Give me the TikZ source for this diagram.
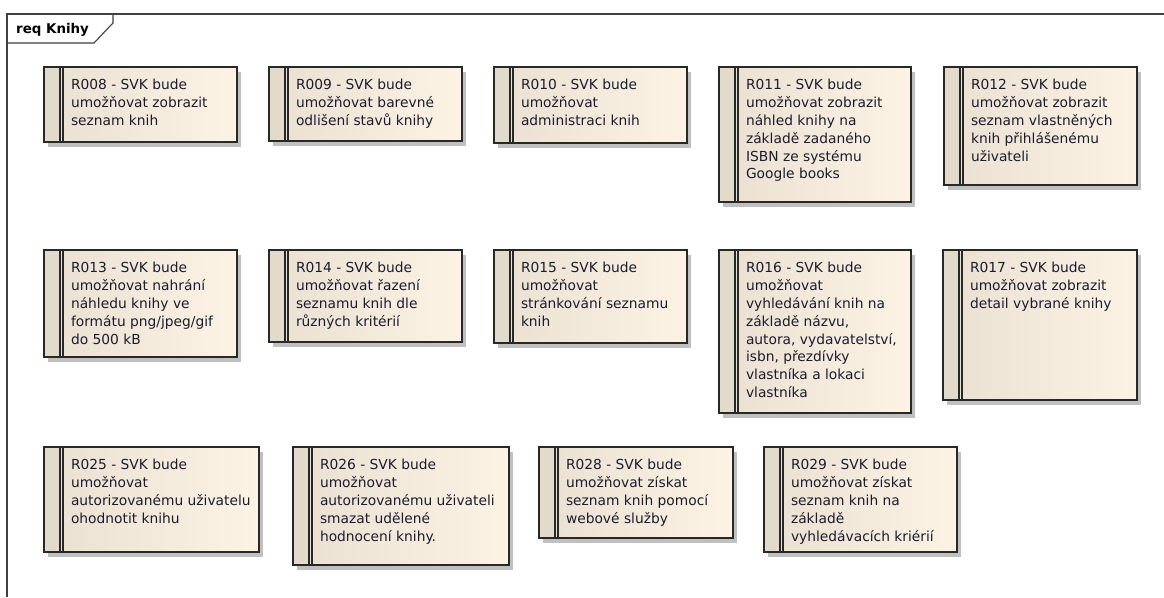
\documentclass[tikz,border=0pt]{standalone}
\usepackage{fontspec}
\setmainfont{DejaVu Sans}
\usetikzlibrary{shadows}

\definecolor{frameline}{RGB}{64,64,64}
\definecolor{boxline}{RGB}{40,40,40}
\definecolor{stripecol}{RGB}{226,218,203}
\definecolor{bodyleft}{RGB}{233,224,209}
\definecolor{bodyright}{RGB}{252,243,228}
\definecolor{reqink}{RGB}{28,28,48}
\definecolor{shadowcol}{RGB}{192,192,192}

\tikzset{
  reqframe/.style={rectangle, inner sep=0pt, outer sep=0pt,
    left color=bodyleft, right color=bodyright,
    drop shadow={shadow xshift=4pt, shadow yshift=-5pt, fill=shadowcol, opacity=1}},
  stripefill/.style={fill=stripecol},
  stripeline/.style={draw=boxline, line width=1.2pt},
  boxedge/.style={draw=boxline, line width=1.8pt},
  reqtext/.style={inner sep=0pt, outer sep=0pt, align=left, text=reqink,
    font=\fontsize{13.8}{17.8}\selectfont},
  diagframe/.style={draw=frameline, line width=1.4pt},
  headerbox/.style={draw=frameline, line width=1.1pt, line join=miter},
  headertext/.style={inner sep=0pt, font=\bfseries\fontsize{13.4}{16}\selectfont, text=black}
}

% requirement element: name, left, top, width, height, text
\newcommand\reqbox[6]{%
  \node[reqframe, minimum width=#4pt, minimum height=#5pt, anchor=north west] (#1) at (#2,#3) {};
  \fill[stripefill] (#1.north west) rectangle ([xshift=16pt]#1.south west);
  \draw[stripeline] ([xshift=16pt]#1.north west) -- ([xshift=16pt]#1.south west);
  \draw[stripeline] ([xshift=19pt]#1.north west) -- ([xshift=19pt]#1.south west);
  \draw[boxedge] (#1.north west) rectangle (#1.south east);
  \node[reqtext, anchor=north west] (#1-text) at ([xshift=27pt, yshift=-12.5pt]#1.north west) {#6};
}

\begin{document}
\begin{tikzpicture}[x=1pt, y=-1pt]
  \useasboundingbox (0,0) rectangle (1164,597);
  \fill[white] (0,0) rectangle (1164,597);

  % diagram frame and its name tab
  \draw[diagframe] (1164,14) -- (7,14) -- (7,597);
  \draw[headerbox] (7,14) -- (113,14) -- (113,23) -- (94,43) -- (7,43);
  \node[headertext, anchor=base west] (title) at (16,33) {req Knihy};

  % first row
  \reqbox{r008}{44}{67}{193}{75}{R008 - SVK bude\\umožňovat zobrazit\\seznam knih}
  \reqbox{r009}{269}{67}{193}{74}{R009 - SVK bude\\umožňovat barevné\\odlišení stavů knihy}
  \reqbox{r010}{494}{67}{193}{76}{R010 - SVK bude\\umožňovat\\administraci knih}
  \reqbox{r011}{719}{67}{192}{135}{R011 - SVK bude\\umožňovat zobrazit\\náhled knihy na\\základě zadaného\\ISBN ze systému\\Google books}
  \reqbox{r012}{944}{67}{193}{118}{R012 - SVK bude\\umožňovat zobrazit\\seznam vlastněných\\knih přihlášenému\\uživateli}

  % second row
  \reqbox{r013}{44}{250}{193}{107}{R013 - SVK bude\\umožňovat nahrání\\náhledu knihy ve\\formátu png/jpeg/gif\\do 500 kB}
  \reqbox{r014}{269}{250}{193}{92}{R014 - SVK bude\\umožňovat řazení\\seznamu knih dle\\různých kritérií}
  \reqbox{r015}{494}{250}{193}{93}{R015 - SVK bude\\umožňovat\\stránkování seznamu\\knih}
  \reqbox{r016}{719}{250}{192}{163}{R016 - SVK bude\\umožňovat\\vyhledávání knih na\\základě názvu,\\autora, vydavatelství,\\isbn, přezdívky\\vlastníka a lokaci\\vlastníka}
  \reqbox{r017}{943}{250}{194}{150}{R017 - SVK bude\\umožňovat zobrazit\\detail vybrané knihy}

  % third row
  \reqbox{r025}{44}{447}{215}{105}{R025 - SVK bude\\umožňovat\\autorizovanému uživatelu\\ohodnotit knihu}
  \reqbox{r026}{293}{447}{216}{118}{R026 - SVK bude\\umožňovat\\autorizovanému uživateli\\smazat udělené\\hodnocení knihy.}
  \reqbox{r028}{539}{447}{194}{91}{R028 - SVK bude\\umožňovat získat\\seznam knih pomocí\\webové služby}
  \reqbox{r029}{764}{447}{193}{105}{R029 - SVK bude\\umožňovat získat\\seznam knih na\\základě\\vyhledávacích kriérií}
\end{tikzpicture}
\end{document}
